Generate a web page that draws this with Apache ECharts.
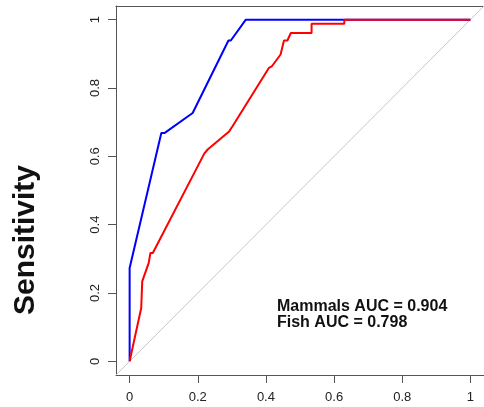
<!DOCTYPE html>
<html>
<head>
<meta charset="utf-8">
<script src="https://cdn.jsdelivr.net/npm/echarts@6/dist/echarts.min.js"></script>
<style>html,body{margin:0;padding:0;background:#fff;}#c{width:484px;height:407px;}</style>
</head>
<body>
<div id="c"></div>
<script>
// ROC curve data (x = 1 - specificity, y = sensitivity)
var mammalsX = [0, 0, 0.093, 0.102, 0.185, 0.29, 0.297, 0.341, 1];
var mammalsY = [0, 0.273, 0.668, 0.668, 0.727, 0.939, 0.939, 1, 1];
var fishX = [0, 0.034, 0.037, 0.056, 0.061, 0.061, 0.068, 0.219, 0.229, 0.292, 0.302, 0.409, 0.417, 0.443, 0.453, 0.463, 0.473, 0.534, 0.534, 0.63, 0.63, 1];
var fishY = [0, 0.156, 0.234, 0.288, 0.288, 0.317, 0.317, 0.608, 0.62, 0.673, 0.688, 0.859, 0.863, 0.898, 0.939, 0.939, 0.961, 0.961, 0.988, 0.988, 1, 1];
var refLine = [-0.1, 1.1];
var tickValues = [0, 0.2, 0.4, 0.6, 0.8, 1];
var tickLabels = ['0', '0.2', '0.4', '0.6', '0.8', '1'];
var aucTexts = ['Mammals AUC = 0.904', 'Fish AUC = 0.798'];
var yTitle = 'Sensitivity';

function pairs(xs, ys) { return xs.map(function (x, i) { return [x, ys[i]]; }); }
function fmt(v) { var i = tickValues.indexOf(v); return i >= 0 ? tickLabels[i] : ''; }

var FONT = '"Liberation Sans", Arial, sans-serif';
var chart = echarts.init(document.getElementById('c'), null, { renderer: 'canvas' });
chart.setOption({
  animation: false,
  backgroundColor: '#ffffff',
  grid: { left: 116, top: 6, width: 369.5, height: 369, show: false },
  xAxis: [{
    type: 'value', min: -0.04, max: 1.04, position: 'bottom',
    axisLine: { show: true, onZero: false, lineStyle: { color: '#555', width: 1 } },
    axisTick: { show: true, inside: false, length: 8, customValues: tickValues, lineStyle: { color: '#555' } },
    axisLabel: { customValues: tickValues, formatter: fmt, margin: 16, fontSize: 13, color: '#222', fontFamily: FONT },
    splitLine: { show: false }
  }, {
    type: 'value', min: -0.04, max: 1.04, position: 'top',
    axisLine: { show: true, onZero: false, lineStyle: { color: '#555', width: 1 } },
    axisTick: { show: false }, axisLabel: { show: false }, splitLine: { show: false }
  }],
  yAxis: {
    type: 'value', min: -0.04, max: 1.04,
    axisLine: { show: true, onZero: false, lineStyle: { color: '#555', width: 1 } },
    axisTick: { show: true, inside: false, length: 8, customValues: tickValues, lineStyle: { color: '#555' } },
    axisLabel: { customValues: tickValues, formatter: fmt, rotate: 90, margin: 14, fontSize: 13, color: '#222', fontFamily: FONT },
    splitLine: { show: false }
  },
  graphic: [
    { type: 'text', x: 26, y: 240, rotation: Math.PI / 2,
      style: { text: yTitle, font: 'bold 30px ' + FONT, fill: '#111', textAlign: 'center', textVerticalAlign: 'middle' } },
    { type: 'text', x: 277, y: 307,
      style: { text: aucTexts[0], font: 'bold 16px ' + FONT, fill: '#111', textAlign: 'left', textVerticalAlign: 'middle' } },
    { type: 'text', x: 277, y: 323,
      style: { text: aucTexts[1], font: 'bold 16px ' + FONT, fill: '#111', textAlign: 'left', textVerticalAlign: 'middle' } }
  ],
  series: [
    { type: 'line', data: pairs(refLine, refLine), showSymbol: false, clip: true, silent: true,
      lineStyle: { color: '#c8c8c8', width: 1 } },
    { type: 'line', data: pairs(mammalsX, mammalsY), showSymbol: false, clip: true,
      lineStyle: { color: '#0000ff', width: 2 } },
    { type: 'line', data: pairs(fishX, fishY), showSymbol: false, clip: true,
      lineStyle: { color: '#ff0000', width: 2 } }
  ]
});
</script>
</body>
</html>
